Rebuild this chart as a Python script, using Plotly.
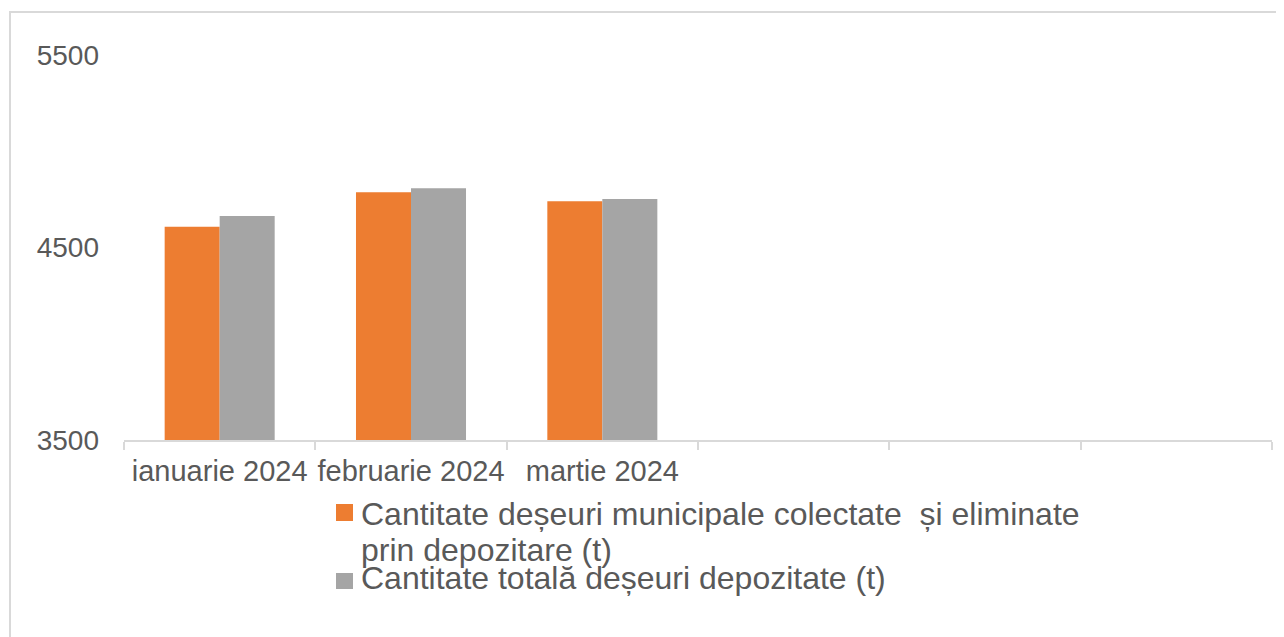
import plotly.graph_objects as go

categories = ["ianuarie 2024", "februarie 2024", "martie 2024", " ", "  ", "   "]
municipale = [4608, 4787, 4740, None, None, None]
total = [4664, 4808, 4752, None, None, None]
series_names = [
    "Cantitate deșeuri municipale colectate  și eliminate prin depozitare (t)",
    "Cantitate totală deșeuri depozitate (t)",
]
legend_lines = [
    "Cantitate deșeuri municipale colectate  și eliminate",
    "prin depozitare (t)",
    "Cantitate totală deșeuri depozitate (t)",
]
y_ticks = [3500, 4500, 5500]
colors = ["#ED7D31", "#A5A5A5"]

# page coords of the plot area: x 124..1272, y 55..440 (body has 8px margin)
W, H = 1276, 629
L, R, T, B = 116, 12, 47, 197
pw, ph = W - L - R, H - T - B


def px(xp):
    return (xp - 124) / pw


def py(yp):
    return (440 - yp) / ph


fig = go.Figure()
fig.add_trace(go.Bar(x=categories, y=municipale, name=series_names[0],
                     marker=dict(color=colors[0], line=dict(width=0))))
fig.add_trace(go.Bar(x=categories, y=total, name=series_names[1],
                     marker=dict(color=colors[1], line=dict(width=0))))

font = "Liberation Sans, Arial, sans-serif"
txt = "#595959"

annotations = []
# legend text lines: (x start, center y)
for text, yc in zip(legend_lines, [513.5, 549.5, 577.5]):
    annotations.append(dict(
        text=text, xref="paper", yref="paper", x=px(359), y=py(yc),
        xanchor="left", yanchor="middle", showarrow=False,
        font=dict(size=32, color=txt, family=font),
    ))

shapes = [
    dict(type="rect", xref="paper", yref="paper",
         x0=px(10), x1=1.2, y0=-1.0, y1=py(12),
         line=dict(color="#D9D9D9", width=2), fillcolor="rgba(0,0,0,0)", layer="below"),
    dict(type="rect", xref="paper", yref="paper",
         x0=px(336), x1=px(353), y0=py(521), y1=py(504),
         line=dict(width=0), fillcolor=colors[0]),
    dict(type="rect", xref="paper", yref="paper",
         x0=px(336), x1=px(353), y0=py(589), y1=py(573),
         line=dict(width=0), fillcolor=colors[1]),
]

fig.update_layout(
    width=W, height=H,
    margin=dict(l=L, r=R, t=T, b=B, autoexpand=False),
    paper_bgcolor="white", plot_bgcolor="white",
    barmode="group", bargap=0.425, bargroupgap=0,
    font=dict(family=font, color=txt, size=28),
    showlegend=False,
    xaxis=dict(
        type="category", categoryorder="array", categoryarray=categories,
        range=[-0.5, 5.5],
        showline=True, linecolor="#D9D9D9", linewidth=2,
        ticks="outside", tickson="boundaries", ticklen=8, tickcolor="#D9D9D9", tickwidth=2,
        showgrid=False, tickfont=dict(size=29, color=txt), tickangle=0,
        ticklabelstandoff=4,
    ),
    yaxis=dict(
        range=[3500, 5500], tickvals=y_ticks, ticktext=[str(v) for v in y_ticks],
        showgrid=False, zeroline=False, showline=False, ticks="",
        tickfont=dict(size=28, color=txt), ticklabelstandoff=24,
    ),
    shapes=shapes,
    annotations=annotations,
)

fig.write_html("out.html")
